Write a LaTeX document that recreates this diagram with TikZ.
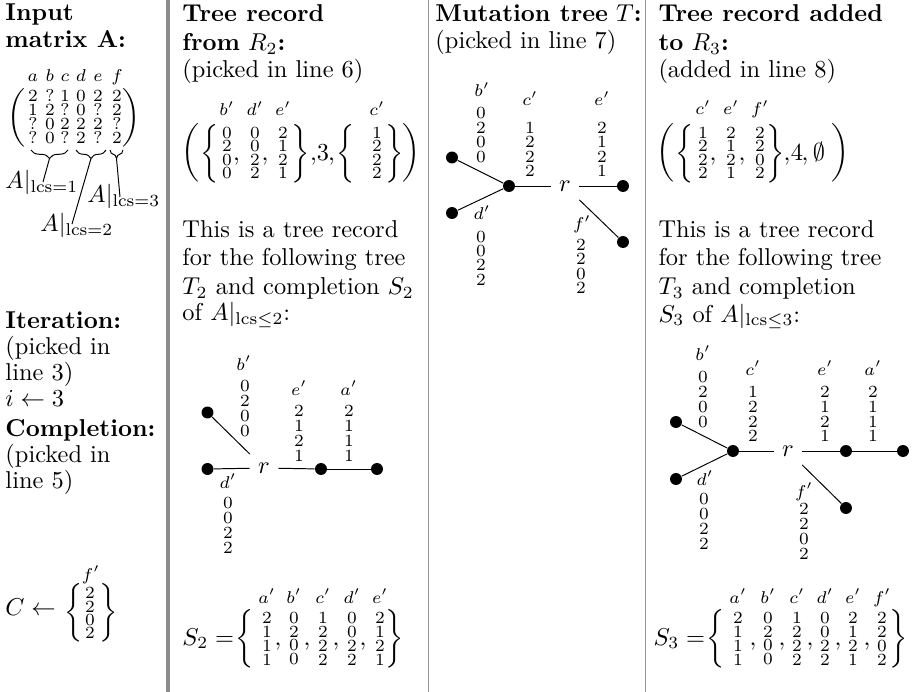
\documentclass[tikz,border=0pt]{standalone}
\usepackage{amsmath,amssymb}
\usetikzlibrary{decorations.pathreplacing}
\tikzset{
 txt/.style={anchor=base west, inner sep=0pt, font=\fontsize{10}{12}\selectfont},
 bse/.style={anchor=base, inner sep=0pt, font=\fontsize{10}{12}\selectfont},
 stk/.style={inner sep=0pt},
 lbl/.style={anchor=base, inner sep=0pt, font=\scriptsize},
 dlm/.style={inner sep=0pt},
 tdot/.style={circle, fill=black, inner sep=0pt, minimum size=4.9pt},
 rn/.style={inner sep=0.3333em, font=\fontsize{10}{12}\selectfont},
 tedge/.style={line width=0.4pt},
 brc/.style={decorate, decoration={brace, mirror, amplitude=3.5pt}, line width=0.4pt},
 sep/.style={draw={rgb,255:red,150;green,150;blue,150}, line width=0.45pt},
 septhick/.style={draw={rgb,255:red,140;green,140;blue,140}, line width=1.6pt},
}
\newcommand\tx[4]{\node[txt] (#1) at (#2,#3) {#4};}
\newcommand\stk[5]{\node[stk] (#1) at (#2,#3) {\fontsize{7}{7}\selectfont\vbox{\baselineskip=#4\relax\lineskiplimit=-20pt\lineskip=0pt\def\\{\cr}\halign{\hfil##\hfil\cr#5\crcr}}};}
\newcommand\lbl[4]{\node[lbl] (#1) at (#2,#3) {$#4$};}
\newcommand\dlm[4]{\node[dlm] (#1) at (#2,#3) {$#4$};}
\newcommand\cma[3]{\node[bse] (#1) at (#2,#3) {$,$};}
\begin{document}
\begin{tikzpicture}[x=0.41pt,y=-0.41pt]
\fill[white] (0,0) rectangle (914,692);
\useasboundingbox (0,0) rectangle (914,692);
% separators
\draw[septhick] (168,0) -- (168,692);
\draw[sep] (428.5,0) -- (428.5,692);
\draw[sep] (645.5,0) -- (645.5,692);

%% Column 1
\tx{in1}{5}{21}{\textbf{Input}}
\tx{in2}{5}{48}{\textbf{matrix A:}}
\lbl{ha}{33}{82}{a}\lbl{hb}{50}{82}{b}\lbl{hc}{65}{82}{c}
\lbl{hd}{81}{82}{d}\lbl{he}{98}{82}{e}\lbl{hf}{117}{82}{f}
\stk{ma}{33}{117}{5.7pt}{2\\1\\?\\?}
\stk{mb}{50}{117}{5.7pt}{?\\2\\0\\0}
\stk{mc}{65}{117}{5.7pt}{1\\?\\2\\?}
\stk{md}{81}{117}{5.7pt}{0\\0\\2\\2}
\stk{me}{98}{117}{5.7pt}{2\\?\\2\\?}
\stk{mf}{117}{117}{5.7pt}{2\\2\\?\\2}
\dlm{pl}{16}{118}{\biggl(}
\dlm{pr}{131}{118}{\biggr)}
\draw[brc] (31,150) -- (68,150);
\draw[brc] (76,150) -- (106,150);
\draw[brc] (110,150) -- (123,150);
\coordinate (bt1) at (49.5,158.5);
\coordinate (bt2) at (91,158.5);
\coordinate (bt3) at (116.5,158.5);
\tx{lab1}{5}{189}{$A|_{\mathrm{lcs}=1}$}
\tx{lab3}{87}{203}{$A|_{\mathrm{lcs}=3}$}
\tx{lab2}{40}{232}{$A|_{\mathrm{lcs}=2}$}
\coordinate (e1) at (43,182);
\coordinate (e2) at (72,224);
\coordinate (e3) at (120,197);
\draw[tedge] (bt1) -- (e1);
\draw[tedge] (bt2) -- (e2);
\draw[tedge] (bt3) -- (e3);

\tx{it1}{5}{328}{\textbf{Iteration:}}
\tx{it2}{5}{354}{(picked in}
\tx{it3}{5}{380}{line 3)}
\tx{it4}{5}{406}{$i \leftarrow 3$}
\tx{co1}{5}{436}{\textbf{Completion:}}
\tx{co2}{5}{462}{(picked in}
\tx{co3}{5}{488}{line 5)}
\tx{co4}{5}{615}{$C \leftarrow$}
\dlm{cbl}{73.5}{613}{\biggl\{}
\stk{ccol}{90}{613}{5.45pt}{2\\2\\0\\2}
\lbl{clf}{91}{580}{f'}
\dlm{cbr}{108.5}{613}{\biggr\}}

%% Column 2
\tx{t2a}{182}{22}{\textbf{Tree record}}
\tx{t2b}{182}{51}{\textbf{from} $R_2$\textbf{:}}
\tx{t2c}{182}{78}{(picked in line 6)}
\dlm{p2l}{190}{153}{\biggl(}
\dlm{b2l}{209.5}{154}{\biggl\{}
\stk{u2b}{227}{153}{5.5pt}{0\\2\\0\\0}\lbl{v2b}{227}{116}{b'}
\cma{k2a}{236.5}{161}
\stk{u2d}{255}{153}{5.5pt}{0\\0\\2\\2}\lbl{v2d}{255}{116}{d'}
\cma{k2b}{265}{161}
\stk{u2e}{283}{153}{5.5pt}{2\\1\\2\\1}\lbl{v2e}{283}{116}{e'}
\dlm{b2r}{300.5}{154}{\biggr\}}
\cma{k2c}{313.5}{161}
\node[bse] (n3) at (323,161) {$3$};
\cma{k2d}{331.5}{161}
\dlm{b2l2}{345.5}{154}{\biggl\{}
\stk{u2c}{377}{153}{5.5pt}{1\\2\\2\\2}\lbl{v2c}{377}{116}{c'}
\dlm{b2r2}{395}{154}{\biggr\}}
\dlm{p2r}{411.5}{153}{\biggr)}

\tx{t2d}{182}{238}{This is a tree record}
\tx{t2e}{182}{266}{for the following tree}
\tx{t2f}{182}{295}{$T_2$ and completion $S_2$}
\tx{t2g}{182}{321}{of $A|_{\mathrm{lcs}\le 2}$:}

% tree T2
\node[rn] (r2) at (264,468) {$r$};
\node[tdot] (b2) at (207.5,412.5) {};
\node[tdot] (d2) at (207.5,469) {};
\node[tdot] (e2n) at (321,469) {};
\node[tdot] (a2) at (377,469) {};
\draw[tedge] (r2) -- (b2);
\draw[tedge] (r2) -- (d2);
\draw[tedge] (r2) -- (e2n);
\draw[tedge] (e2n) -- (a2);
\lbl{t2lb}{244}{370}{b'}\stk{t2cb}{245}{408.5}{6.1pt}{0\\2\\0\\0}
\lbl{t2le}{299}{395}{e'}\stk{t2ce}{299}{433.5}{6.1pt}{2\\1\\2\\1}
\lbl{t2la}{349}{395}{a'}\stk{t2ca}{349}{433.5}{6.1pt}{2\\1\\1\\1}
\lbl{t2ld}{228}{488}{d'}\stk{t2cd}{228}{525.5}{6.1pt}{0\\0\\2\\2}

% S2
\tx{s2}{182}{645}{$S_2 =$}
\dlm{s2l}{244.5}{638.5}{\biggl\{}
\stk{s2a}{267}{638.5}{5.7pt}{2\\1\\1\\1}\lbl{w2a}{267}{603}{a'}
\cma{q2a}{278}{645}
\stk{s2b}{294}{638.5}{5.7pt}{0\\2\\0\\0}\lbl{w2b}{294}{603}{b'}
\cma{q2b}{307}{645}
\stk{s2c}{323}{638.5}{5.7pt}{1\\2\\2\\2}\lbl{w2c}{323}{603}{c'}
\cma{q2c}{336}{645}
\stk{s2d}{352}{638.5}{5.7pt}{0\\0\\2\\2}\lbl{w2d}{352}{603}{d'}
\cma{q2d}{363}{645}
\stk{s2e}{380}{638.5}{5.7pt}{2\\1\\2\\1}\lbl{w2e}{380}{603}{e'}
\dlm{s2r}{395}{638.5}{\biggr\}}

%% Column 3
\tx{t3a}{435}{22}{\textbf{Mutation tree} $T$\textbf{:}}
\tx{t3b}{435}{49}{(picked in line 7)}
\node[rn] (r3) at (565,186) {$r$};
\node[tdot] (b3) at (452,157.5) {};
\node[tdot] (c3) at (509,186) {};
\node[tdot] (e3n) at (623,186) {};
\node[tdot] (d3) at (452,213) {};
\node[tdot] (f3) at (623,242) {};
\draw[tedge] (c3) -- (b3);
\draw[tedge] (c3) -- (d3);
\draw[tedge] (r3) -- (c3);
\draw[tedge] (r3) -- (e3n);
\draw[tedge] (r3) -- (f3);
\lbl{t3lb}{482}{97}{b'}\stk{t3cb}{481}{135}{5.9pt}{0\\2\\0\\0}
\lbl{t3lc}{530}{106}{c'}\stk{t3cc}{530}{149.5}{5.9pt}{1\\2\\2\\2}
\lbl{t3le}{602}{106}{e'}\stk{t3ce}{602}{149.5}{5.9pt}{2\\1\\2\\1}
\lbl{t3ld}{482}{220}{d'}\stk{t3cd}{481}{258}{5.9pt}{0\\0\\2\\2}
\lbl{t3lf}{582}{230}{f'}\stk{t3cf}{581}{266.5}{5.9pt}{2\\2\\0\\2}

%% Column 4
\tx{t4a}{658}{22}{\textbf{Tree record added}}
\tx{t4b}{658}{51}{\textbf{to} $R_3$\textbf{:}}
\tx{t4c}{658}{78}{(added in line 8)}
\dlm{p4l}{665}{153}{\biggl(}
\dlm{b4l}{684.5}{154}{\biggl\{}
\stk{u4c}{703}{153}{5.5pt}{1\\2\\2\\2}\lbl{v4c}{703}{115}{c'}
\cma{k4a}{713}{161}
\stk{u4e}{731}{153}{5.5pt}{2\\1\\2\\1}\lbl{v4e}{731}{115}{e'}
\cma{k4b}{742}{161}
\stk{u4f}{760}{153}{5.5pt}{2\\2\\0\\2}\lbl{v4f}{760}{115}{f'}
\dlm{b4r}{775.5}{154}{\biggr\}}
\cma{k4c}{787}{161}
\node[bse] (n4) at (797,161) {$4$};
\cma{k4d}{805}{161}
\node[bse] (emp) at (819,161) {$\emptyset$};
\dlm{p4r}{840}{153}{\biggr)}

\tx{t4d}{658}{238}{This is a tree record}
\tx{t4e}{658}{266}{for the following tree}
\tx{t4f}{658}{295}{$T_3$ and completion}
\tx{t4g}{658}{322}{$S_3$ of $A|_{\mathrm{lcs}\le 3}$:}

% tree T3
\node[rn] (r4) at (788,451) {$r$};
\node[tdot] (b4) at (676,422) {};
\node[tdot] (c4) at (733,451) {};
\node[tdot] (e4n) at (846,451) {};
\node[tdot] (a4) at (903,451) {};
\node[tdot] (d4) at (676,479) {};
\node[tdot] (f4) at (846,508) {};
\draw[tedge] (c4) -- (b4);
\draw[tedge] (c4) -- (d4);
\draw[tedge] (r4) -- (c4);
\draw[tedge] (r4) -- (e4n);
\draw[tedge] (e4n) -- (a4);
\draw[tedge] (r4) -- (f4);
\lbl{t4lb}{703}{360}{b'}\stk{t4cb}{703}{399.5}{6.1pt}{0\\2\\0\\0}
\lbl{t4lc}{753}{375}{c'}\stk{t4cc}{753}{414}{6.1pt}{1\\2\\2\\2}
\lbl{t4le}{825}{375}{e'}\stk{t4ce}{825}{414}{6.1pt}{2\\1\\2\\1}
\lbl{t4la}{873}{375}{a'}\stk{t4ca}{873}{414}{6.1pt}{2\\1\\1\\1}
\lbl{t4ld}{705}{485}{d'}\stk{t4cd}{704}{521.5}{6.1pt}{0\\0\\2\\2}
\lbl{t4lf}{804}{497}{f'}\stk{t4cf}{804}{531.5}{6.1pt}{2\\2\\0\\2}

% S3
\tx{s3}{653}{645}{$S_3 =$}
\dlm{s3l}{716}{638.5}{\biggl\{}
\stk{s3a}{738}{638.5}{5.7pt}{2\\1\\1\\1}\lbl{w3a}{738}{603}{a'}
\cma{q3a}{753}{645}
\stk{s3b}{768}{638.5}{5.7pt}{0\\2\\0\\0}\lbl{w3b}{768}{603}{b'}
\cma{q3b}{782}{645}
\stk{s3c}{797}{638.5}{5.7pt}{1\\2\\2\\2}\lbl{w3c}{797}{603}{c'}
\cma{q3c}{810}{645}
\stk{s3d}{825}{638.5}{5.7pt}{0\\0\\2\\2}\lbl{w3d}{825}{603}{d'}
\cma{q3d}{838}{645}
\stk{s3e}{853}{638.5}{5.7pt}{2\\1\\2\\1}\lbl{w3e}{853}{603}{e'}
\cma{q3e}{867}{645}
\stk{s3f}{882}{638.5}{5.7pt}{2\\2\\0\\2}\lbl{w3f}{882}{603}{f'}
\dlm{s3r}{898.5}{638.5}{\biggr\}}
\end{tikzpicture}
\end{document}
